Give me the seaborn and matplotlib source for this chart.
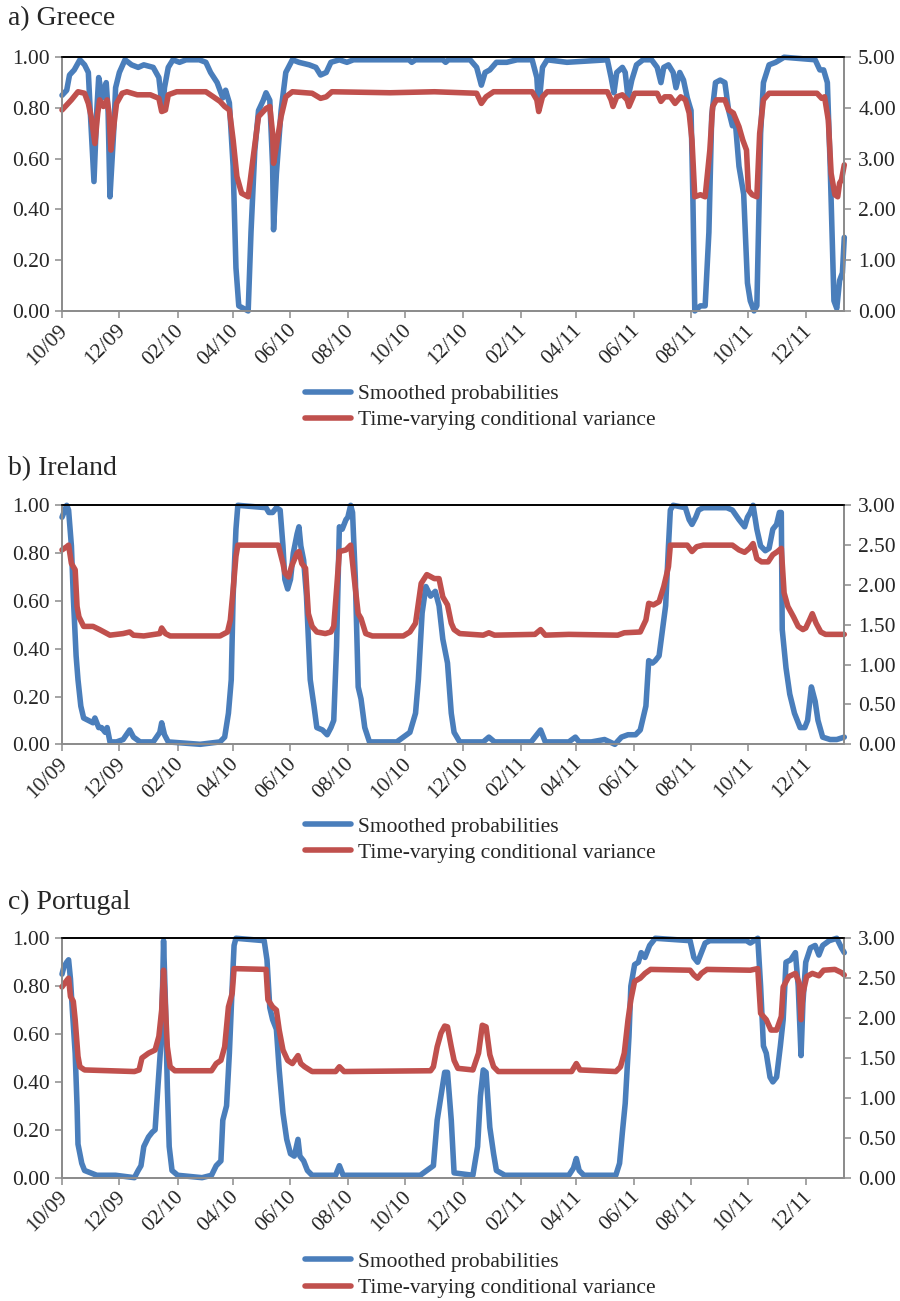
import pandas as pd
import matplotlib
matplotlib.use('Agg')
import matplotlib.pyplot as plt
import matplotlib.dates as mdates
import matplotlib.transforms as mtransforms
from matplotlib.ticker import FormatStrFormatter, MultipleLocator
import seaborn as sns

# ---- Greece ----
gr_prob_dates = ['2009-10-01', '2009-10-06', '2009-10-09', '2009-10-14', '2009-10-20', '2009-10-25',
                 '2009-10-29', '2009-10-31', '2009-11-04', '2009-11-07', '2009-11-09', '2009-11-13',
                 '2009-11-17', '2009-11-19', '2009-11-21', '2009-11-25', '2009-11-27', '2009-12-01',
                 '2009-12-07', '2009-12-14', '2009-12-21', '2009-12-27', '2010-01-06', '2010-01-12',
                 '2010-01-16', '2010-01-18', '2010-01-22', '2010-01-27', '2010-02-03', '2010-02-10',
                 '2010-02-24', '2010-03-03', '2010-03-08', '2010-03-15', '2010-03-21', '2010-03-24',
                 '2010-03-28', '2010-04-01', '2010-04-04', '2010-04-07', '2010-04-17', '2010-04-20',
                 '2010-04-24', '2010-04-28', '2010-05-03', '2010-05-06', '2010-05-10', '2010-05-13',
                 '2010-05-14', '2010-05-17', '2010-05-22', '2010-05-27', '2010-06-03', '2010-06-10',
                 '2010-06-21', '2010-06-28', '2010-07-03', '2010-07-09', '2010-07-14', '2010-07-23',
                 '2010-07-31', '2010-08-07', '2010-10-05', '2010-10-08', '2010-10-12', '2010-11-10',
                 '2010-11-13', '2010-11-16', '2010-12-09', '2010-12-16', '2010-12-21', '2010-12-25',
                 '2010-12-30', '2011-01-06', '2011-01-17', '2011-01-28', '2011-02-13', '2011-02-18',
                 '2011-02-20', '2011-02-24', '2011-03-01', '2011-03-22', '2011-05-04', '2011-05-08',
                 '2011-05-11', '2011-05-14', '2011-05-20', '2011-05-23', '2011-05-26', '2011-05-30',
                 '2011-06-04', '2011-06-11', '2011-06-20', '2011-06-26', '2011-06-30', '2011-07-03',
                 '2011-07-08', '2011-07-13', '2011-07-16', '2011-07-20', '2011-07-24', '2011-07-28',
                 '2011-08-01', '2011-08-03', '2011-08-05', '2011-08-11', '2011-08-16', '2011-08-20',
                 '2011-08-23', '2011-08-27', '2011-09-01', '2011-09-06', '2011-09-10', '2011-09-14',
                 '2011-09-17', '2011-09-21', '2011-09-26', '2011-09-30', '2011-10-03', '2011-10-07',
                 '2011-10-10', '2011-10-14', '2011-10-17', '2011-10-23', '2011-10-30', '2011-11-08',
                 '2011-12-11', '2011-12-16', '2011-12-20', '2011-12-24', '2011-12-27', '2011-12-31',
                 '2012-01-03', '2012-01-06', '2012-01-09', '2012-01-11']
gr_prob = [0.85, 0.87, 0.93, 0.95, 0.99, 0.97, 0.94, 0.79, 0.51, 0.79, 0.92, 0.84,
           0.90, 0.79, 0.45, 0.71, 0.88, 0.94, 0.99, 0.97, 0.96, 0.97, 0.96, 0.92,
           0.79, 0.88, 0.96, 0.99, 0.98, 0.99, 0.99, 0.98, 0.94, 0.90, 0.84, 0.87,
           0.82, 0.57, 0.17, 0.02, 0.00, 0.31, 0.63, 0.79, 0.83, 0.86, 0.83, 0.57,
           0.32, 0.54, 0.79, 0.94, 0.99, 0.98, 0.97, 0.96, 0.93, 0.94, 0.98, 0.99,
           0.98, 0.99, 0.99, 0.98, 0.99, 0.99, 0.98, 0.99, 0.99, 0.96, 0.89, 0.94,
           0.95, 0.98, 0.98, 0.99, 0.99, 0.92, 0.80, 0.96, 0.99, 0.98, 0.99, 0.92,
           0.86, 0.94, 0.96, 0.94, 0.84, 0.91, 0.97, 0.99, 0.99, 0.96, 0.90, 0.96,
           0.97, 0.94, 0.88, 0.94, 0.91, 0.84, 0.79, 0.44, 0.00, 0.02, 0.02, 0.31,
           0.77, 0.90, 0.91, 0.90, 0.79, 0.73, 0.75, 0.57, 0.46, 0.11, 0.04, 0.00,
           0.02, 0.70, 0.90, 0.97, 0.98, 1.00, 0.99, 0.95, 0.95, 0.90, 0.57, 0.04,
           0.01, 0.12, 0.15, 0.29]
gr_var_dates = ['2009-10-01', '2009-10-06', '2009-10-11', '2009-10-18', '2009-10-25', '2009-10-29',
                '2009-11-01', '2009-11-05', '2009-11-08', '2009-11-10', '2009-11-14', '2009-11-18',
                '2009-11-20', '2009-11-22', '2009-11-25', '2009-11-28', '2009-12-04', '2009-12-09',
                '2009-12-20', '2010-01-03', '2010-01-12', '2010-01-15', '2010-01-19', '2010-01-22',
                '2010-01-31', '2010-03-03', '2010-03-11', '2010-03-18', '2010-03-23', '2010-03-28',
                '2010-04-01', '2010-04-05', '2010-04-10', '2010-04-17', '2010-04-22', '2010-04-28',
                '2010-05-06', '2010-05-10', '2010-05-13', '2010-05-14', '2010-05-18', '2010-05-22',
                '2010-05-27', '2010-06-03', '2010-06-24', '2010-07-03', '2010-07-09', '2010-07-15',
                '2010-09-15', '2010-11-01', '2010-12-16', '2010-12-21', '2010-12-26', '2011-01-03',
                '2011-02-13', '2011-02-18', '2011-02-20', '2011-02-24', '2011-03-01', '2011-05-04',
                '2011-05-08', '2011-05-10', '2011-05-14', '2011-05-20', '2011-05-25', '2011-05-27',
                '2011-06-02', '2011-06-26', '2011-06-30', '2011-07-04', '2011-07-10', '2011-07-15',
                '2011-07-21', '2011-07-26', '2011-07-30', '2011-08-02', '2011-08-05', '2011-08-11',
                '2011-08-16', '2011-08-21', '2011-08-24', '2011-08-28', '2011-09-06', '2011-09-10',
                '2011-09-15', '2011-09-21', '2011-09-25', '2011-09-29', '2011-10-01', '2011-10-05',
                '2011-10-10', '2011-10-13', '2011-10-17', '2011-10-23', '2011-12-13', '2011-12-18',
                '2011-12-21', '2011-12-25', '2011-12-28', '2012-01-01', '2012-01-04', '2012-01-06',
                '2012-01-08', '2012-01-11']
gr_var = [3.96, 4.06, 4.16, 4.32, 4.29, 4.09, 3.83, 3.30, 3.90, 4.16, 4.03, 4.16,
          3.90, 3.17, 3.63, 4.09, 4.29, 4.32, 4.26, 4.26, 4.19, 3.93, 3.96, 4.26,
          4.32, 4.32, 4.22, 4.13, 4.03, 3.96, 3.37, 2.65, 2.32, 2.25, 2.98, 3.83,
          3.99, 4.03, 3.50, 2.91, 3.37, 3.83, 4.22, 4.32, 4.29, 4.19, 4.22, 4.32,
          4.30, 4.32, 4.29, 4.09, 4.22, 4.32, 4.32, 4.16, 3.93, 4.22, 4.32, 4.32,
          4.16, 4.03, 4.22, 4.26, 4.16, 4.03, 4.29, 4.29, 4.13, 4.22, 4.22, 4.09,
          4.22, 4.16, 3.90, 3.37, 2.25, 2.29, 2.25, 3.17, 4.03, 4.16, 4.16, 3.96,
          3.90, 3.63, 3.37, 3.17, 2.38, 2.29, 2.25, 3.50, 4.16, 4.29, 4.29, 4.19,
          4.22, 3.76, 2.71, 2.29, 2.25, 2.52, 2.58, 2.88]

# ---- Ireland ----
ie_prob_dates = ['2009-10-01', '2009-10-03', '2009-10-06', '2009-10-08', '2009-10-11', '2009-10-13',
                 '2009-10-16', '2009-10-18', '2009-10-21', '2009-10-24', '2009-10-29', '2009-11-03',
                 '2009-11-05', '2009-11-09', '2009-11-12', '2009-11-16', '2009-11-18', '2009-11-21',
                 '2009-11-28', '2009-12-05', '2009-12-12', '2009-12-16', '2009-12-23', '2010-01-06',
                 '2010-01-13', '2010-01-15', '2010-01-18', '2010-01-22', '2010-02-25', '2010-03-18',
                 '2010-03-23', '2010-03-27', '2010-03-30', '2010-04-01', '2010-04-04', '2010-04-06',
                 '2010-05-06', '2010-05-09', '2010-05-13', '2010-05-17', '2010-05-21', '2010-05-24',
                 '2010-05-26', '2010-05-29', '2010-06-01', '2010-06-04', '2010-06-08', '2010-06-10',
                 '2010-06-12', '2010-06-15', '2010-06-18', '2010-06-22', '2010-06-26', '2010-06-29',
                 '2010-07-05', '2010-07-10', '2010-07-14', '2010-07-17', '2010-07-20', '2010-07-23',
                 '2010-07-26', '2010-07-30', '2010-08-01', '2010-08-04', '2010-08-06', '2010-08-09',
                 '2010-08-12', '2010-08-15', '2010-08-19', '2010-08-24', '2010-09-22', '2010-09-29',
                 '2010-10-06', '2010-10-12', '2010-10-15', '2010-10-19', '2010-10-23', '2010-10-28',
                 '2010-11-02', '2010-11-06', '2010-11-10', '2010-11-15', '2010-11-19', '2010-11-22',
                 '2010-11-28', '2010-12-23', '2010-12-29', '2011-01-04', '2011-02-12', '2011-02-18',
                 '2011-02-22', '2011-02-27', '2011-03-24', '2011-03-31', '2011-04-04', '2011-04-17',
                 '2011-05-01', '2011-05-12', '2011-05-19', '2011-05-26', '2011-06-03', '2011-06-08',
                 '2011-06-14', '2011-06-17', '2011-06-21', '2011-06-24', '2011-06-28', '2011-07-01',
                 '2011-07-05', '2011-07-08', '2011-07-10', '2011-07-13', '2011-07-26', '2011-07-30',
                 '2011-08-02', '2011-08-06', '2011-08-09', '2011-08-14', '2011-08-25', '2011-09-08',
                 '2011-09-14', '2011-09-21', '2011-09-27', '2011-09-30', '2011-10-03', '2011-10-06',
                 '2011-10-10', '2011-10-14', '2011-10-19', '2011-10-23', '2011-10-27', '2011-10-31',
                 '2011-11-03', '2011-11-05', '2011-11-06', '2011-11-10', '2011-11-14', '2011-11-19',
                 '2011-11-25', '2011-11-30', '2011-12-03', '2011-12-07', '2011-12-11', '2011-12-14',
                 '2011-12-19', '2011-12-27', '2012-01-03', '2012-01-11']
ie_prob = [0.95, 0.97, 1.00, 0.98, 0.83, 0.62, 0.37, 0.27, 0.16, 0.11, 0.10, 0.09,
           0.11, 0.07, 0.07, 0.05, 0.07, 0.01, 0.01, 0.02, 0.06, 0.03, 0.01, 0.01,
           0.05, 0.09, 0.04, 0.01, 0.00, 0.01, 0.03, 0.13, 0.27, 0.62, 0.90, 1.00,
           0.99, 0.97, 0.97, 0.99, 0.98, 0.83, 0.69, 0.65, 0.69, 0.80, 0.88, 0.91,
           0.83, 0.77, 0.62, 0.27, 0.16, 0.07, 0.06, 0.04, 0.07, 0.10, 0.41, 0.91,
           0.90, 0.94, 0.95, 1.00, 0.97, 0.69, 0.24, 0.19, 0.07, 0.01, 0.01, 0.03,
           0.05, 0.13, 0.27, 0.55, 0.66, 0.62, 0.64, 0.58, 0.44, 0.34, 0.13, 0.05,
           0.01, 0.01, 0.03, 0.01, 0.01, 0.04, 0.06, 0.01, 0.01, 0.03, 0.01, 0.01,
           0.02, 0.00, 0.03, 0.04, 0.04, 0.06, 0.16, 0.35, 0.34, 0.35, 0.37, 0.46,
           0.58, 0.83, 0.98, 1.00, 0.99, 0.94, 0.92, 0.95, 0.98, 0.99, 0.99, 0.99,
           0.98, 0.94, 0.91, 0.95, 0.97, 1.00, 0.90, 0.83, 0.81, 0.82, 0.90, 0.92,
           0.97, 0.97, 0.48, 0.32, 0.21, 0.13, 0.07, 0.07, 0.10, 0.24, 0.18, 0.10,
           0.03, 0.02, 0.02, 0.03]
ie_var_dates = ['2009-10-01', '2009-10-06', '2009-10-08', '2009-10-11', '2009-10-15', '2009-10-17',
                '2009-10-19', '2009-10-24', '2009-11-03', '2009-11-10', '2009-11-21', '2009-12-05',
                '2009-12-12', '2009-12-16', '2009-12-27', '2010-01-13', '2010-01-15', '2010-01-19',
                '2010-01-24', '2010-03-18', '2010-03-26', '2010-03-29', '2010-04-01', '2010-04-04',
                '2010-04-06', '2010-05-19', '2010-05-24', '2010-05-26', '2010-05-30', '2010-06-02',
                '2010-06-08', '2010-06-10', '2010-06-13', '2010-06-17', '2010-06-20', '2010-06-24',
                '2010-06-29', '2010-07-08', '2010-07-14', '2010-07-17', '2010-07-20', '2010-07-23',
                '2010-07-30', '2010-08-04', '2010-08-08', '2010-08-12', '2010-08-15', '2010-08-20',
                '2010-08-27', '2010-09-29', '2010-10-06', '2010-10-12', '2010-10-18', '2010-10-24',
                '2010-11-01', '2010-11-06', '2010-11-10', '2010-11-15', '2010-11-19', '2010-11-22',
                '2010-11-28', '2010-12-23', '2010-12-29', '2011-01-04', '2011-02-16', '2011-02-22',
                '2011-02-27', '2011-03-24', '2011-05-15', '2011-05-22', '2011-06-08', '2011-06-14',
                '2011-06-17', '2011-06-22', '2011-06-28', '2011-07-03', '2011-07-08', '2011-07-10',
                '2011-07-28', '2011-08-02', '2011-08-07', '2011-08-14', '2011-09-14', '2011-09-21',
                '2011-09-27', '2011-10-02', '2011-10-06', '2011-10-10', '2011-10-15', '2011-10-22',
                '2011-10-27', '2011-11-01', '2011-11-05', '2011-11-08', '2011-11-12', '2011-11-18',
                '2011-11-23', '2011-11-28', '2011-12-01', '2011-12-05', '2011-12-08', '2011-12-12',
                '2011-12-17', '2011-12-22', '2012-01-11']
ie_var = [2.44, 2.48, 2.50, 2.27, 2.19, 1.73, 1.60, 1.48, 1.48, 1.44, 1.37, 1.39,
          1.41, 1.37, 1.36, 1.39, 1.46, 1.39, 1.36, 1.36, 1.41, 1.56, 1.94, 2.36,
          2.50, 2.50, 2.27, 2.15, 2.10, 2.23, 2.40, 2.42, 2.27, 2.21, 1.64, 1.48,
          1.41, 1.39, 1.41, 1.48, 1.94, 2.42, 2.44, 2.50, 2.06, 1.64, 1.58, 1.39,
          1.36, 1.36, 1.41, 1.52, 2.02, 2.13, 2.08, 2.08, 1.85, 1.75, 1.52, 1.44,
          1.39, 1.37, 1.40, 1.37, 1.38, 1.44, 1.37, 1.38, 1.37, 1.40, 1.41, 1.56,
          1.77, 1.75, 1.79, 1.98, 2.23, 2.50, 2.50, 2.42, 2.48, 2.50, 2.50, 2.44,
          2.41, 2.46, 2.52, 2.33, 2.29, 2.29, 2.38, 2.42, 2.46, 1.90, 1.73, 1.60,
          1.48, 1.44, 1.46, 1.56, 1.64, 1.52, 1.41, 1.38, 1.38]

# ---- Portugal ----
pt_prob_dates = ['2009-10-01', '2009-10-03', '2009-10-06', '2009-10-08', '2009-10-10', '2009-10-12',
                 '2009-10-15', '2009-10-17', '2009-10-18', '2009-10-22', '2009-10-25', '2009-11-07',
                 '2009-11-27', '2009-12-17', '2009-12-21', '2009-12-24', '2009-12-27', '2010-01-01',
                 '2010-01-05', '2010-01-08', '2010-01-11', '2010-01-14', '2010-01-16', '2010-01-17',
                 '2010-01-19', '2010-01-21', '2010-01-23', '2010-01-26', '2010-02-01', '2010-02-27',
                 '2010-03-09', '2010-03-14', '2010-03-19', '2010-03-21', '2010-03-25', '2010-03-28',
                 '2010-03-31', '2010-04-02', '2010-04-04', '2010-05-04', '2010-05-07', '2010-05-10',
                 '2010-05-13', '2010-05-17', '2010-05-20', '2010-05-24', '2010-05-28', '2010-06-01',
                 '2010-06-05', '2010-06-09', '2010-06-11', '2010-06-15', '2010-06-19', '2010-06-24',
                 '2010-07-19', '2010-07-23', '2010-07-27', '2010-10-17', '2010-10-24', '2010-10-31',
                 '2010-11-04', '2010-11-08', '2010-11-12', '2010-11-15', '2010-11-19', '2010-11-22',
                 '2010-12-12', '2010-12-17', '2010-12-20', '2010-12-23', '2010-12-26', '2010-12-30',
                 '2011-01-03', '2011-01-06', '2011-01-15', '2011-03-24', '2011-03-29', '2011-04-01',
                 '2011-04-04', '2011-04-09', '2011-05-13', '2011-05-17', '2011-05-20', '2011-05-23',
                 '2011-05-27', '2011-05-29', '2011-06-02', '2011-06-06', '2011-06-09', '2011-06-13',
                 '2011-06-18', '2011-06-24', '2011-07-31', '2011-08-04', '2011-08-08', '2011-08-12',
                 '2011-08-16', '2011-08-21', '2011-09-29', '2011-10-03', '2011-10-07', '2011-10-11',
                 '2011-10-14', '2011-10-17', '2011-10-20', '2011-10-24', '2011-10-27', '2011-10-31',
                 '2011-11-04', '2011-11-07', '2011-11-10', '2011-11-15', '2011-11-20', '2011-11-23',
                 '2011-11-26', '2011-11-28', '2011-12-01', '2011-12-06', '2011-12-11', '2011-12-15',
                 '2011-12-19', '2011-12-26', '2012-01-03', '2012-01-08', '2012-01-11']
pt_prob = [0.85, 0.88, 0.90, 0.91, 0.83, 0.70, 0.52, 0.30, 0.14, 0.06, 0.03, 0.01,
           0.01, 0.00, 0.03, 0.05, 0.13, 0.17, 0.19, 0.20, 0.38, 0.55, 0.80, 0.99,
           0.73, 0.38, 0.13, 0.03, 0.01, 0.00, 0.01, 0.05, 0.07, 0.24, 0.30, 0.52,
           0.80, 0.97, 1.00, 0.99, 0.91, 0.71, 0.66, 0.62, 0.45, 0.27, 0.16, 0.10,
           0.09, 0.16, 0.09, 0.07, 0.03, 0.01, 0.01, 0.05, 0.01, 0.01, 0.03, 0.05,
           0.24, 0.34, 0.44, 0.44, 0.24, 0.02, 0.01, 0.13, 0.34, 0.45, 0.44, 0.21,
           0.10, 0.03, 0.01, 0.01, 0.04, 0.08, 0.03, 0.01, 0.01, 0.06, 0.19, 0.31,
           0.59, 0.80, 0.89, 0.90, 0.94, 0.92, 0.97, 1.00, 0.99, 0.92, 0.90, 0.94,
           0.98, 0.99, 0.99, 0.98, 0.99, 1.00, 0.80, 0.55, 0.52, 0.42, 0.40, 0.42,
           0.55, 0.66, 0.90, 0.91, 0.94, 0.80, 0.51, 0.73, 0.90, 0.96, 0.97, 0.93,
           0.97, 0.99, 1.00, 0.96, 0.94]
pt_var_dates = ['2009-10-01', '2009-10-04', '2009-10-08', '2009-10-10', '2009-10-13', '2009-10-15',
                '2009-10-18', '2009-10-20', '2009-10-25', '2009-12-17', '2009-12-22', '2009-12-25',
                '2010-01-01', '2010-01-08', '2010-01-12', '2010-01-15', '2010-01-17', '2010-01-19',
                '2010-01-21', '2010-01-24', '2010-01-29', '2010-03-09', '2010-03-14', '2010-03-19',
                '2010-03-23', '2010-03-27', '2010-03-31', '2010-04-02', '2010-05-06', '2010-05-08',
                '2010-05-13', '2010-05-17', '2010-05-20', '2010-05-24', '2010-05-29', '2010-06-03',
                '2010-06-09', '2010-06-12', '2010-06-16', '2010-06-24', '2010-07-19', '2010-07-23',
                '2010-07-28', '2010-10-28', '2010-10-31', '2010-11-04', '2010-11-08', '2010-11-12',
                '2010-11-15', '2010-11-19', '2010-11-22', '2010-11-26', '2010-12-12', '2010-12-18',
                '2010-12-22', '2010-12-26', '2010-12-30', '2011-01-03', '2011-01-08', '2011-03-27',
                '2011-04-01', '2011-04-05', '2011-05-13', '2011-05-18', '2011-05-22', '2011-05-26',
                '2011-05-29', '2011-06-02', '2011-06-08', '2011-06-13', '2011-06-19', '2011-07-31',
                '2011-08-04', '2011-08-08', '2011-08-12', '2011-08-18', '2011-10-03', '2011-10-11',
                '2011-10-14', '2011-10-20', '2011-10-25', '2011-10-31', '2011-11-05', '2011-11-07',
                '2011-11-13', '2011-11-20', '2011-11-24', '2011-11-26', '2011-11-28', '2011-12-02',
                '2011-12-08', '2011-12-15', '2011-12-20', '2012-01-01', '2012-01-08', '2012-01-11']
pt_var = [2.39, 2.44, 2.50, 2.27, 2.21, 1.98, 1.52, 1.39, 1.35, 1.33, 1.35, 1.50,
          1.56, 1.60, 1.77, 2.10, 2.60, 2.14, 1.64, 1.39, 1.34, 1.34, 1.43, 1.47,
          1.64, 2.14, 2.31, 2.62, 2.61, 2.23, 2.14, 2.10, 1.85, 1.60, 1.47, 1.43,
          1.53, 1.43, 1.39, 1.33, 1.33, 1.39, 1.33, 1.34, 1.39, 1.64, 1.81, 1.90,
          1.89, 1.64, 1.47, 1.37, 1.35, 1.56, 1.91, 1.89, 1.54, 1.39, 1.33, 1.33,
          1.43, 1.35, 1.33, 1.39, 1.56, 1.98, 2.23, 2.46, 2.50, 2.56, 2.61, 2.60,
          2.54, 2.50, 2.56, 2.61, 2.60, 2.62, 2.06, 1.98, 1.85, 1.85, 2.02, 2.39,
          2.52, 2.56, 2.44, 1.98, 2.31, 2.52, 2.56, 2.53, 2.60, 2.61, 2.57, 2.54]

BLUE = '#4a7ebb'
RED = '#c0504d'
GREY = '#8c8c8c'

sns.set_style('white')
plt.rcParams['font.family'] = ['Liberation Serif', 'DejaVu Serif']


def drawPanel(fig, rect, title, title_y, legend_y, prob_dates, prob, var_dates, var, var_max, var_step):
    ax = fig.add_axes(rect)
    ax2 = ax.twinx()

    sns.lineplot(x=pd.to_datetime(prob_dates), y=prob, ax=ax, color=BLUE, lw=4.0,
                 estimator=None, label='Smoothed probabilities', clip_on=False)
    sns.lineplot(x=pd.to_datetime(var_dates), y=var, ax=ax2, color=RED, lw=4.0,
                 estimator=None, label='Time-varying conditional variance', clip_on=False)

    ax.set_xlim(pd.Timestamp('2009-10-01'), pd.Timestamp('2012-01-11'))
    ax.set_ylim(0, 1)
    ax2.set_ylim(0, var_max)
    ax.yaxis.set_major_locator(MultipleLocator(0.2))
    ax2.yaxis.set_major_locator(MultipleLocator(var_step))
    ax.yaxis.set_major_formatter(FormatStrFormatter('%.2f'))
    ax2.yaxis.set_major_formatter(FormatStrFormatter('%.2f'))
    ax.xaxis.set_major_locator(mdates.MonthLocator(bymonth=[2, 4, 6, 8, 10, 12]))
    ax.xaxis.set_major_formatter(mdates.DateFormatter('%m/%y'))
    ax.set_xlabel('')
    ax.set_ylabel('')
    ax2.set_ylabel('')

    for a in (ax, ax2):
        for side in ('left', 'right', 'bottom'):
            a.spines[side].set_color(GREY)
            a.spines[side].set_linewidth(1.3)
        a.spines['top'].set_color('black')
        a.spines['top'].set_linewidth(1.2)
        a.tick_params(length=5, width=1.1, color=GREY, labelsize=15.5, direction='out')
    ax.tick_params(axis='y', left=True, pad=4)
    ax2.tick_params(axis='y', right=True, pad=5)
    ax.tick_params(axis='x', bottom=True, pad=7)
    shift = mtransforms.ScaledTranslation(3 / 100, 0, fig.dpi_scale_trans)
    for lab in ax.get_xticklabels():
        lab.set_rotation(45)
        lab.set_ha('right')
        lab.set_va('center')
        lab.set_rotation_mode('anchor')
        lab.set_transform(lab.get_transform() + shift)

    handles = ax.get_legend_handles_labels()[0] + ax2.get_legend_handles_labels()[0]
    labels = ax.get_legend_handles_labels()[1] + ax2.get_legend_handles_labels()[1]
    ax.get_legend().remove()
    ax2.get_legend().remove()
    fig.legend(handles, labels, loc='center', bbox_to_anchor=(0.534, legend_y), frameon=False,
               fontsize=15.5, handlelength=2.1, handletextpad=0.35, labelspacing=0.28)
    fig.text(0.009, title_y, title, fontsize=20, va='center', ha='left')


fig = plt.figure(figsize=(9, 13.01), dpi=100)
drawPanel(fig, [0.0689, 0.7610, 0.8692, 0.1950], 'a) Greece', 0.986, 0.687,
          gr_prob_dates, gr_prob, gr_var_dates, gr_var, 5, 1)
drawPanel(fig, [0.0689, 0.4279, 0.8692, 0.1837], 'b) Ireland', 0.640, 0.3547,
          ie_prob_dates, ie_prob, ie_var_dates, ie_var, 3, 0.5)
drawPanel(fig, [0.0689, 0.0948, 0.8692, 0.1840], 'c) Portugal', 0.3067, 0.020,
          pt_prob_dates, pt_prob, pt_var_dates, pt_var, 3, 0.5)

plt.savefig('out.png', dpi=100)
